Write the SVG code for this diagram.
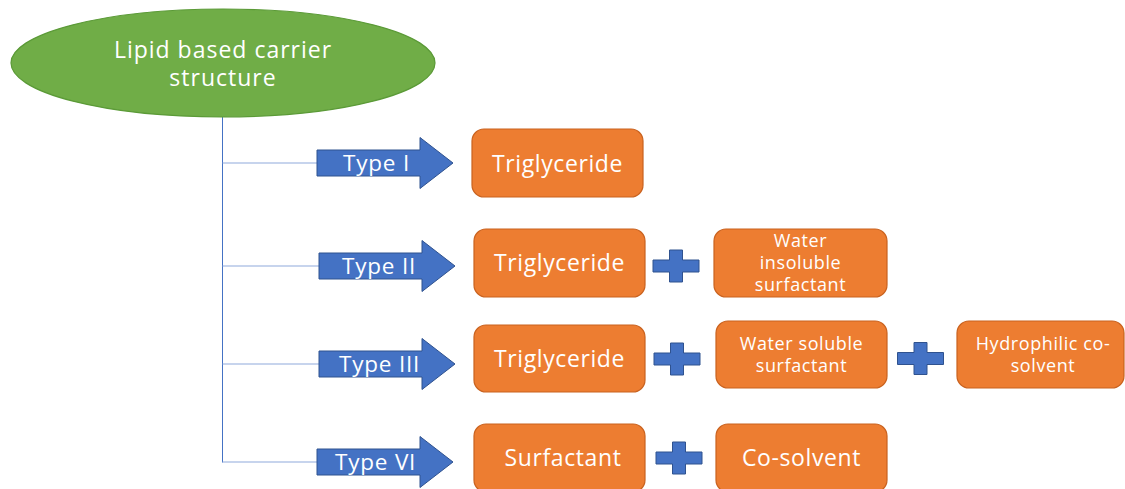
<svg xmlns="http://www.w3.org/2000/svg" xmlns:xlink="http://www.w3.org/1999/xlink" width="1125" height="489" viewBox="0 0 1125 489">
<style>
.box{fill:#ED7D31;stroke:#C9621F;stroke-width:1.2}
.arrow{fill:#4472C4;stroke:#2F528F;stroke-width:1}
.plus{fill:#4472C4;stroke:#2F528F;stroke-width:1}
.conn{stroke:#4472C4;stroke-width:1;fill:none}
.hconn{stroke:#8FAADC;stroke-width:1.2;fill:none}
text{font-family:"Open Sans","Noto Sans","Liberation Sans",sans-serif;fill:#FFFFFF}
.big{font-size:22.5px;letter-spacing:0.8px}
.root{font-size:23px;letter-spacing:1px}
.mid{font-size:23px;letter-spacing:0.6px}
.small{font-size:18px;letter-spacing:0.6px}
.c{text-anchor:middle}
</style>
<defs>
<path id="arr" d="M0,-13 H103 V-25.5 L136,0 L103,25.5 V13 H0 Z"/>
<path id="plus" d="M-6.5,-16 H6.5 V-6 H23 V6 H6.5 V16 H-6.5 V6 H-23 V-6 H-6.5 Z"/>
</defs>
<rect width="1125" height="489" fill="#FFFFFF"/>
<g id="connectors">
<line class="conn" x1="222.5" y1="117" x2="222.5" y2="462.5"/>
<line class="hconn" x1="222.5" y1="163" x2="317" y2="163"/>
<line class="hconn" x1="222.5" y1="266" x2="319" y2="266"/>
<line class="hconn" x1="222.5" y1="364" x2="319" y2="364"/>
<line class="hconn" x1="222.5" y1="462" x2="317" y2="462"/>
</g>
<g id="root">
<ellipse cx="223" cy="63" rx="212" ry="54" fill="#70AD47" stroke="#5B9A37" stroke-width="1.2"/>
<text class="root c" x="223" y="58">Lipid based carrier</text>
<text class="root c" x="223" y="86">structure</text>
</g>
<g id="type1">
<use xlink:href="#arr" class="arrow" transform="translate(317,163)"/>
<text class="big" x="343" y="171">Type I</text>
</g>
<g id="type2">
<use xlink:href="#arr" class="arrow" transform="translate(319,266)"/>
<text class="big" x="342" y="274">Type II</text>
</g>
<g id="type3">
<use xlink:href="#arr" class="arrow" transform="translate(319,364)"/>
<text class="big" x="339" y="372">Type III</text>
</g>
<g id="type6">
<use xlink:href="#arr" class="arrow" transform="translate(317,462)"/>
<text class="big" x="335" y="470">Type VI</text>
</g>
<g id="t1-trig">
<rect class="box" x="472" y="129" width="171" height="68" rx="12"/>
<text class="mid c" x="557.5" y="172">Triglyceride</text>
</g>
<g id="t2-trig">
<rect class="box" x="474" y="229" width="171" height="68" rx="12"/>
<text class="mid c" x="559.5" y="271">Triglyceride</text>
</g>
<g id="t2-plus"><use xlink:href="#plus" class="plus" transform="translate(676,266)"/></g>
<g id="t2-wis">
<rect class="box" x="714" y="229" width="173" height="68" rx="12"/>
<text class="small c" x="800.5" y="247">Water</text>
<text class="small c" x="800.5" y="269">insoluble</text>
<text class="small c" x="800.5" y="291">surfactant</text>
</g>
<g id="t3-trig">
<rect class="box" x="474" y="325" width="171" height="67" rx="12"/>
<text class="mid c" x="559.5" y="367">Triglyceride</text>
</g>
<g id="t3-plus1"><use xlink:href="#plus" class="plus" transform="translate(677,359)"/></g>
<g id="t3-wss">
<rect class="box" x="716" y="321" width="171" height="67" rx="12"/>
<text class="small c" x="801.5" y="350">Water soluble</text>
<text class="small c" x="801.5" y="372">surfactant</text>
</g>
<g id="t3-plus2"><use xlink:href="#plus" class="plus" transform="translate(920.5,358.5)"/></g>
<g id="t3-hcs">
<rect class="box" x="957" y="321" width="167" height="67" rx="12"/>
<text class="small c" x="1043" y="350">Hydrophilic co-</text>
<text class="small c" x="1043" y="372">solvent</text>
</g>
<g id="t6-surf">
<rect class="box" x="474" y="424" width="171" height="68" rx="12"/>
<text class="mid c" x="563" y="466">Surfactant</text>
</g>
<g id="t6-plus"><use xlink:href="#plus" class="plus" transform="translate(679,458)"/></g>
<g id="t6-cos">
<rect class="box" x="716" y="424" width="171" height="68" rx="12"/>
<text class="mid c" x="801.5" y="466">Co-solvent</text>
</g>
</svg>
